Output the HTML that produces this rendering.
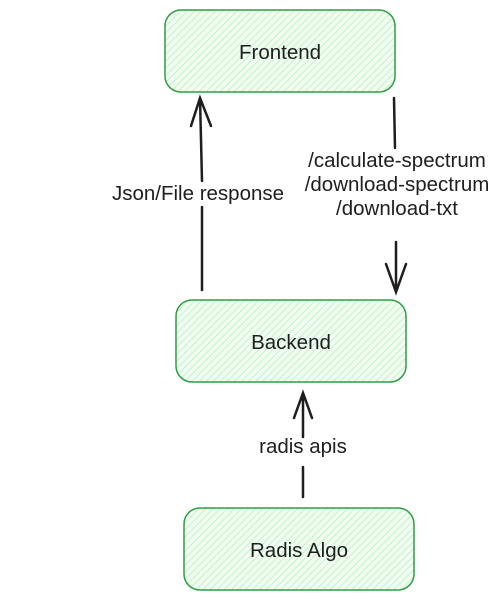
<!DOCTYPE html>
<html><head><style>
body{margin:0;width:500px;height:600px;background:#fff;overflow:hidden}
text{font-family:"Liberation Sans",sans-serif;font-size:20.5px;fill:#1e1e1e}
</style></head><body>
<svg width="500" height="600" xmlns="http://www.w3.org/2000/svg">
<defs>
<pattern id="h" width="5" height="5" patternUnits="userSpaceOnUse" patternTransform="rotate(45)">
<rect width="5" height="5" fill="#f3fcf3"/>
<line x1="0" y1="0" x2="0" y2="5" stroke="#b2f2bb" stroke-width="1.6"/>
</pattern>
</defs>
<g stroke="#2f9e44" stroke-width="1.5" fill="url(#h)">
<rect x="165" y="10" width="230" height="82" rx="16"/>
<rect x="176" y="300" width="230" height="82" rx="16"/>
<rect x="184" y="508" width="230" height="82" rx="16"/>
</g>
<g text-anchor="middle">
<text x="280" y="59">Frontend</text>
<text x="291" y="349">Backend</text>
<text x="299" y="557">Radis Algo</text>
<text x="198" y="200">Json/File response</text>
<text x="397" y="167">/calculate-spectrum</text>
<text x="397" y="191">/download-spectrum</text>
<text x="397" y="215">/download-txt</text>
<text x="303" y="453">radis apis</text>
</g>
<g stroke="#1e1e1e" stroke-width="2.5" fill="none" stroke-linecap="round">
<path d="M202 290 L202 207 M202 181 L200 98 M191 126 L200 98 L211 126"/>
<path d="M394 98 L395 148 M396 242 L396 292 M386 264 L396 292 L406 264"/>
<path d="M303 497 L303 467 M303 437 L303 393 M294 418 L303 393 L312 418"/>
</g>
</svg>
</body></html>
